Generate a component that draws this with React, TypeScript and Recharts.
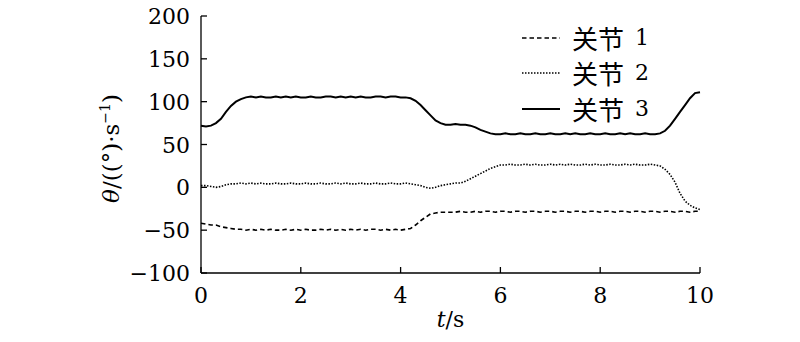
import React from "react";
import { LineChart, Line, XAxis, YAxis, Legend } from "recharts";

const times = [
  0, 0.1, 0.2, 0.3, 0.4, 0.5, 0.6, 0.7, 0.8, 0.9, 1,
  1.1, 1.2, 1.3, 1.4, 1.5, 1.6, 1.7, 1.8, 1.9, 2,
  2.1, 2.2, 2.3, 2.4, 2.5, 2.6, 2.7, 2.8, 2.9, 3,
  3.1, 3.2, 3.3, 3.4, 3.5, 3.6, 3.7, 3.8, 3.9, 4,
  4.1, 4.2, 4.3, 4.4, 4.5, 4.6, 4.7, 4.8, 4.9, 5,
  5.1, 5.2, 5.3, 5.4, 5.5, 5.6, 5.7, 5.8, 5.9, 6,
  6.1, 6.2, 6.3, 6.4, 6.5, 6.6, 6.7, 6.8, 6.9, 7,
  7.1, 7.2, 7.3, 7.4, 7.5, 7.6, 7.7, 7.8, 7.9, 8,
  8.1, 8.2, 8.3, 8.4, 8.5, 8.6, 8.7, 8.8, 8.9, 9,
  9.1, 9.2, 9.3, 9.4, 9.5, 9.6, 9.7, 9.8, 9.9, 10,
];

const joint1 = [
  -42, -43, -44, -44, -46, -47, -48, -49, -49, -50, -49,
  -50, -49, -50, -49, -50, -50, -49, -50, -49, -50,
  -49, -50, -50, -49, -50, -49, -50, -49, -50, -49,
  -50, -49, -50, -49, -49, -50, -49, -50, -49, -50,
  -49, -48, -44, -39, -35, -31, -30, -29, -29, -29,
  -29, -28, -29, -29, -28, -29, -28, -28, -29, -28,
  -28, -29, -28, -28, -29, -28, -28, -29, -28, -28,
  -29, -28, -28, -29, -28, -28, -29, -28, -28, -29,
  -28, -28, -29, -28, -28, -29, -28, -28, -29, -28,
  -28, -29, -28, -28, -29, -28, -28, -29, -28, -28,
];

const joint2 = [
  2, 2, 1, 0, 1, 3, 4, 4, 5, 4, 5,
  4, 5, 4, 4, 5, 4, 4, 5, 4, 4,
  5, 4, 4, 5, 4, 4, 5, 4, 5, 4,
  4, 5, 4, 4, 5, 4, 4, 5, 4, 4,
  5, 4, 3, 2, 0, -1, 0, 2, 3, 4,
  5, 5, 7, 10, 13, 16, 19, 22, 24, 26,
  26, 27, 26, 26, 27, 26, 27, 26, 26, 27,
  26, 27, 26, 27, 26, 26, 27, 26, 27, 26,
  26, 27, 26, 26, 27, 26, 27, 26, 26, 27,
  26, 25, 21, 15, 6, -7, -16, -21, -24, -26,
];

const joint3 = [
  72, 71, 72, 75, 80, 88, 95, 100, 103, 105, 106,
  105, 106, 105, 105, 106, 105, 106, 105, 106, 105,
  105, 106, 105, 105, 106, 106, 105, 106, 105, 106,
  105, 106, 105, 105, 106, 106, 105, 106, 106, 105,
  105, 104, 101, 96, 90, 84, 78, 75, 73, 73,
  74, 73, 73, 72, 70, 67, 65, 63, 62, 62,
  63, 62, 62, 63, 62, 62, 63, 62, 62, 63,
  62, 62, 63, 62, 63, 62, 62, 63, 62, 62,
  63, 62, 62, 63, 62, 63, 62, 62, 63, 62,
  62, 63, 66, 72, 80, 88, 96, 104, 110, 111,
];

const xTicks = [0, 2, 4, 6, 8, 10];
const yTicks = [-100, -50, 0, 50, 100, 150, 200];

const series = [
  { key: "j1", label: "关节", num: "1", dash: "4.5 3", width: 1.6 },
  { key: "j2", label: "关节", num: "2", dash: "1.5 1.5", width: 1.6 },
  { key: "j3", label: "关节", num: "3", dash: undefined as string | undefined, width: 2 },
];

const data = times.map((t, i) => ({ t, j1: joint1[i], j2: joint2[i], j3: joint3[i] }));

// Liberation Serif / generic serif come out sans in the svg here, DejaVu Serif works
const SERIF = "DejaVu Serif";
const CJK = "Noto Sans CJK SC";

const fmt = (v: number) => (v < 0 ? `\u2212${Math.abs(v)}` : `${v}`);

const XTick = ({ x, y, payload }: any) => (
  <text x={x} y={y} dy={18} textAnchor="middle" fill="#000" fontSize={22} fontFamily={SERIF}>
    {fmt(payload.value)}
  </text>
);

const YTick = ({ x, y, payload }: any) => (
  <text x={x} y={y} dy={8} textAnchor="end" fill="#000" fontSize={22} fontFamily={SERIF}>
    {fmt(payload.value)}
  </text>
);

const CustomLegend = () => (
  <div style={{ fontSize: 26, color: "#000", lineHeight: 1 }}>
    {series.map((s) => (
      <div key={s.key} style={{ display: "flex", alignItems: "center", height: 35.5 }}>
        <svg width={39} height={4} style={{ marginRight: 11 }}>
          <line x1={0} y1={2} x2={38} y2={2} stroke="#000" strokeWidth={s.width} strokeDasharray={s.dash} />
        </svg>
        <span style={{ fontFamily: CJK }}>{s.label}</span>
        <span style={{ fontFamily: SERIF, fontSize: 22, marginLeft: 11 }}>{s.num}</span>
      </div>
    ))}
  </div>
);

const YLabel = ({ viewBox }: any) => {
  const x = viewBox.x + 119;
  const y = viewBox.y + viewBox.height / 2 + 4;
  return (
    <text x={x} y={y} transform={`rotate(-90, ${x}, ${y})`} textAnchor="middle" fontFamily={SERIF} fontSize={23} fill="#000">
      <tspan fontStyle="italic">θ</tspan>
      <tspan>/((°)·s</tspan>
      <tspan fontSize={14} dy={-9}>−1</tspan>
      <tspan dy={9}>)</tspan>
    </text>
  );
};

const XLabel = ({ viewBox }: any) => {
  const x = viewBox.x + viewBox.width / 2;
  return (
    <text x={x} y={327} textAnchor="middle" fontFamily={SERIF} fontSize={22} fill="#000">
      <tspan fontStyle="italic">t</tspan>
      <tspan>/s</tspan>
    </text>
  );
};

export default function App() {
  return (
    <div style={{ position: "absolute", left: 0, top: 0, background: "#fff" }}>
      <LineChart width={800} height={342} data={data} margin={{ top: 16, right: 100, bottom: 0, left: 0 }}>
        <XAxis
          dataKey="t"
          type="number"
          domain={[0, 10]}
          ticks={xTicks}
          height={69}
          tickSize={-6}
          tickMargin={18}
          axisLine={{ stroke: "#000", strokeWidth: 1.3 }}
          tickLine={{ stroke: "#000", strokeWidth: 1.3 }}
          tick={<XTick />}
          label={<XLabel />}
        />
        <YAxis
          type="number"
          domain={[-100, 200]}
          ticks={yTicks}
          width={201}
          tickSize={-6}
          tickMargin={17}
          axisLine={{ stroke: "#000", strokeWidth: 1.3 }}
          tickLine={{ stroke: "#000", strokeWidth: 1.3 }}
          tick={<YTick />}
          label={<YLabel />}
        />
        <Legend
          layout="vertical"
          align="center"
          verticalAlign="middle"
          content={<CustomLegend />}
          wrapperStyle={{ position: "absolute", left: 522, top: 20, width: 200 }}
        />
        {series.map((s) => (
          <Line
            key={s.key}
            dataKey={s.key}
            name={`${s.label} ${s.num}`}
            type="linear"
            stroke="#000"
            strokeWidth={s.width}
            strokeDasharray={s.dash}
            dot={false}
            activeDot={false}
            isAnimationActive={false}
          />
        ))}
      </LineChart>
    </div>
  );
}
